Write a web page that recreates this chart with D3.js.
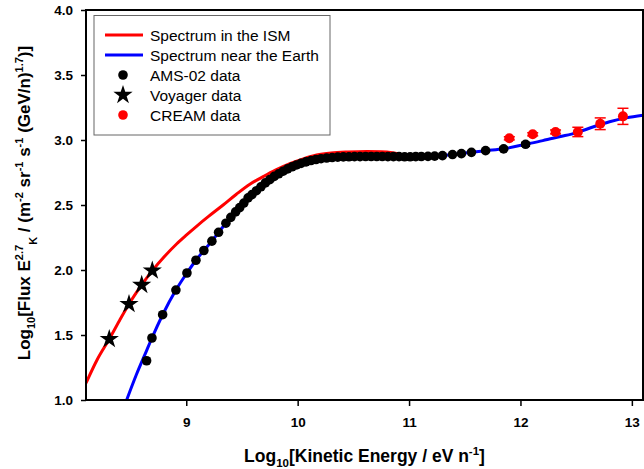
<!DOCTYPE html>
<html><head><meta charset="utf-8">
<script src="https://cdn.jsdelivr.net/npm/d3@7"></script>
<style>
body{margin:0;background:#fff;}
text{font-family:Arial,"Liberation Sans",sans-serif;}
</style></head>
<body>
<svg id="chart" width="644" height="469"></svg>
<script>
// ---- data ----
const xTicks = [9, 10, 11, 12, 13];
const yTicks = [1.0, 1.5, 2.0, 2.5, 3.0, 3.5, 4.0];

const ismX = [8.10, 8.20, 8.309, 8.40, 8.486, 8.60, 8.695, 8.80, 8.913, 9.00, 9.10, 9.20, 9.331, 9.45, 9.571, 9.69, 9.80, 9.93, 10.05, 10.17, 10.30, 10.45, 10.62, 10.75, 10.85, 10.93, 11.00];
const ismY = [1.13, 1.31, 1.469, 1.61, 1.738, 1.885, 1.995, 2.10, 2.20, 2.268, 2.342, 2.412, 2.50, 2.583, 2.66, 2.718, 2.768, 2.818, 2.855, 2.884, 2.9, 2.908, 2.912, 2.91, 2.902, 2.888, 2.874];

const earthX = [8.465, 8.55, 8.644, 8.692, 8.788, 8.907, 9.006, 9.087, 9.158, 9.23, 9.29, 9.356, 9.443, 9.517, 9.60, 9.70, 9.80, 9.90, 10.00, 10.10, 10.20, 10.30, 10.45, 10.60, 10.80, 11.00, 11.20, 11.35, 11.50, 11.687, 11.849, 12.046, 12.20, 12.35, 12.50, 12.65, 12.80, 12.95, 13.10];
const earthY = [1.00, 1.19, 1.38, 1.477, 1.656, 1.846, 1.977, 2.075, 2.15, 2.222, 2.29, 2.36, 2.447, 2.515, 2.59, 2.665, 2.725, 2.772, 2.81, 2.838, 2.856, 2.866, 2.871, 2.873, 2.873, 2.871, 2.875, 2.884, 2.9, 2.918, 2.932, 2.967, 2.995, 3.025, 3.055, 3.10, 3.14, 3.17, 3.19];

const amsX = [8.644, 8.692, 8.788, 8.907, 9.006, 9.087, 9.158, 9.23, 9.29, 9.356, 9.40, 9.443, 9.48, 9.517, 9.555, 9.59, 9.63, 9.67, 9.71, 9.75, 9.79, 9.83, 9.87, 9.91, 9.95, 9.99, 10.03, 10.075, 10.12, 10.165, 10.21, 10.26, 10.31, 10.36, 10.41, 10.46, 10.51, 10.56, 10.61, 10.66, 10.71, 10.76, 10.81, 10.86, 10.91, 10.96, 11.01, 11.06, 11.11, 11.17, 11.23, 11.30, 11.39, 11.47, 11.56, 11.687, 11.849, 12.046];
const amsY = [1.302, 1.477, 1.656, 1.846, 1.977, 2.075, 2.15, 2.222, 2.29, 2.36, 2.405, 2.447, 2.48, 2.515, 2.555, 2.58, 2.61, 2.64, 2.67, 2.695, 2.72, 2.74, 2.76, 2.778, 2.794, 2.808, 2.82, 2.832, 2.842, 2.85, 2.856, 2.861, 2.865, 2.868, 2.87, 2.871, 2.872, 2.872, 2.873, 2.873, 2.873, 2.873, 2.872, 2.872, 2.872, 2.871, 2.871, 2.872, 2.873, 2.874, 2.876, 2.88, 2.888, 2.895, 2.905, 2.918, 2.932, 2.967];
const amsErr = [0,0,0,0,0,0,0,0,0,0,0,0,0,0,0,0,0,0,0,0,0,0,0,0,0,0,0,0,0,0,0,0,0,0,0,0,0,0,0,0,0,0,0,0,0,0,0,0,0,0,0,0,0,0,0,0.008,0.012,0.015];

const voyX = [8.309, 8.486, 8.60, 8.695];
const voyY = [1.469, 1.738, 1.885, 1.995];

const creamX = [11.90, 12.11, 12.315, 12.515, 12.716, 12.92];
const creamY = [3.013, 3.044, 3.062, 3.062, 3.125, 3.182];
const creamErr = [0.012, 0.012, 0.015, 0.036, 0.045, 0.062];

const legendLabels = ["Spectrum in the ISM", "Spectrum near the Earth", "AMS-02 data", "Voyager data", "CREAM data"];

// ---- chart ----
const svg = d3.select("#chart");
const L = 86, R = 643, T = 10, B = 400;
const x = d3.scaleLinear().domain([8.1, 13.1]).range([L, R]);
const y = d3.scaleLinear().domain([1.0, 4.0]).range([B, T]);

svg.append("defs").append("clipPath").attr("id", "clip")
  .append("rect").attr("x", L).attr("y", T).attr("width", R - L).attr("height", B - T);

const zip = (a, b) => a.map((v, i) => [v, b[i]]);
const line = d3.line().x(d => x(d[0])).y(d => y(d[1])).curve(d3.curveMonotoneX);

const plot = svg.append("g").attr("clip-path", "url(#clip)");
plot.append("path").datum(zip(ismX, ismY)).attr("d", line)
  .attr("fill", "none").attr("stroke", "#ff0000").attr("stroke-width", 3);
plot.append("path").datum(zip(earthX, earthY)).attr("d", line)
  .attr("fill", "none").attr("stroke", "#0000ff").attr("stroke-width", 3);

// AMS error bars
const ams = amsX.map((v, i) => ({x: v, y: amsY[i], e: amsErr[i]}));
const ebA = plot.append("g").attr("stroke", "#000").attr("stroke-width", 1.5);
ams.filter(d => d.e > 0).forEach(d => {
  ebA.append("line").attr("x1", x(d.x)).attr("x2", x(d.x)).attr("y1", y(d.y - d.e)).attr("y2", y(d.y + d.e));
  [d.y - d.e, d.y + d.e].forEach(v => ebA.append("line").attr("x1", x(d.x) - 4.5).attr("x2", x(d.x) + 4.5).attr("y1", y(v)).attr("y2", y(v)));
});
plot.append("g").selectAll("circle").data(ams).join("circle")
  .attr("cx", d => x(d.x)).attr("cy", d => y(d.y)).attr("r", 4.8).attr("fill", "#000");

// Voyager stars
const star = d3.symbol().type(d3.symbolStar).size(115);
plot.append("g").selectAll("path").data(zip(voyX, voyY)).join("path")
  .attr("d", star).attr("transform", d => `translate(${x(d[0])},${y(d[1])})`).attr("fill", "#000");

// CREAM
const cream = creamX.map((v, i) => ({x: v, y: creamY[i], e: creamErr[i]}));
const ebC = plot.append("g").attr("stroke", "#ff0000").attr("stroke-width", 1.5);
cream.forEach(d => {
  ebC.append("line").attr("x1", x(d.x)).attr("x2", x(d.x)).attr("y1", y(d.y - d.e)).attr("y2", y(d.y + d.e));
  [d.y - d.e, d.y + d.e].forEach(v => ebC.append("line").attr("x1", x(d.x) - 5.5).attr("x2", x(d.x) + 5.5).attr("y1", y(v)).attr("y2", y(v)));
});
plot.append("g").selectAll("circle").data(cream).join("circle")
  .attr("cx", d => x(d.x)).attr("cy", d => y(d.y)).attr("r", 5).attr("fill", "#ff0000");

// axes
const ax = svg.append("g").attr("transform", `translate(0,${B})`)
  .call(d3.axisBottom(x).tickValues(xTicks).tickFormat(d3.format("d")).tickSize(6).tickPadding(11));
const ay = svg.append("g").attr("transform", `translate(${L},0)`)
  .call(d3.axisLeft(y).tickValues(yTicks).tickFormat(d3.format(".1f")).tickSize(5).tickPadding(8));
[ax, ay].forEach(g => {
  g.select(".domain").remove();
  g.selectAll(".tick line").attr("stroke", "#000").attr("stroke-width", 1.5);
  g.selectAll(".tick text").attr("font-size", 13.5).attr("font-weight", "bold").attr("fill", "#000")
    .attr("font-family", "Arial, 'Liberation Sans', sans-serif");
});
svg.append("rect").attr("x", L).attr("y", T).attr("width", R - L).attr("height", B - T)
  .attr("fill", "none").attr("stroke", "#000").attr("stroke-width", 2);

// legend
const lg = svg.append("g");
lg.append("rect").attr("x", 94).attr("y", 15.5).attr("width", 236).attr("height", 119.5)
  .attr("fill", "#fff").attr("stroke", "#666").attr("stroke-width", 1);
legendLabels.forEach((t, i) => {
  const cy = 35 + i * 20;
  lg.append("text").attr("x", 150).attr("y", cy + 5.5).attr("font-size", 15.5).attr("fill", "#000").text(t);
  if (i === 0 || i === 1) {
    lg.append("line").attr("x1", 105).attr("x2", 143).attr("y1", cy).attr("y2", cy)
      .attr("stroke", i === 0 ? "#ff0000" : "#0000ff").attr("stroke-width", 3);
  } else if (i === 3) {
    lg.append("path").attr("d", star).attr("transform", `translate(123,${cy})`).attr("fill", "#000");
  } else {
    lg.append("circle").attr("cx", 123).attr("cy", cy).attr("r", 4.8).attr("fill", i === 2 ? "#000" : "#ff0000");
  }
});

// axis titles
const xt = svg.append("text").attr("x", (L + R) / 2).attr("y", 462).attr("text-anchor", "middle")
  .attr("font-size", 17.5).attr("font-weight", "bold").attr("fill", "#000");
xt.append("tspan").text("Log");
xt.append("tspan").attr("font-size", 11.5).attr("dy", 5).text("10");
xt.append("tspan").attr("dy", -5).text("[Kinetic Energy / eV n");
xt.append("tspan").attr("font-size", 11.5).attr("dy", -7).text("-1");
xt.append("tspan").attr("dy", 7).text("]");

const yt = svg.append("text").attr("transform", `translate(30,${(T + B) / 2 - 2}) rotate(-90)`)
  .attr("text-anchor", "middle").attr("font-size", 17).attr("font-weight", "bold").attr("fill", "#000");
yt.append("tspan").text("Log");
yt.append("tspan").attr("font-size", 11).attr("dy", 5).text("10");
yt.append("tspan").attr("dy", -5).text("[Flux  E");
yt.append("tspan").attr("font-size", 11).attr("dy", -7).text("2.7");
yt.append("tspan").attr("font-size", 11).attr("dy", 14).text("K");
yt.append("tspan").attr("dy", -7).text("  / (m");
yt.append("tspan").attr("font-size", 11).attr("dy", -7).text("-2");
yt.append("tspan").attr("dy", 7).text(" sr");
yt.append("tspan").attr("font-size", 11).attr("dy", -7).text("-1");
yt.append("tspan").attr("dy", 7).text(" s");
yt.append("tspan").attr("font-size", 11).attr("dy", -7).text("-1");
yt.append("tspan").attr("dy", 7).text(" (GeV/n)");
yt.append("tspan").attr("font-size", 11).attr("dy", -7).text("1.7");
yt.append("tspan").attr("dy", 7).text(")]");
</script>
</body></html>
